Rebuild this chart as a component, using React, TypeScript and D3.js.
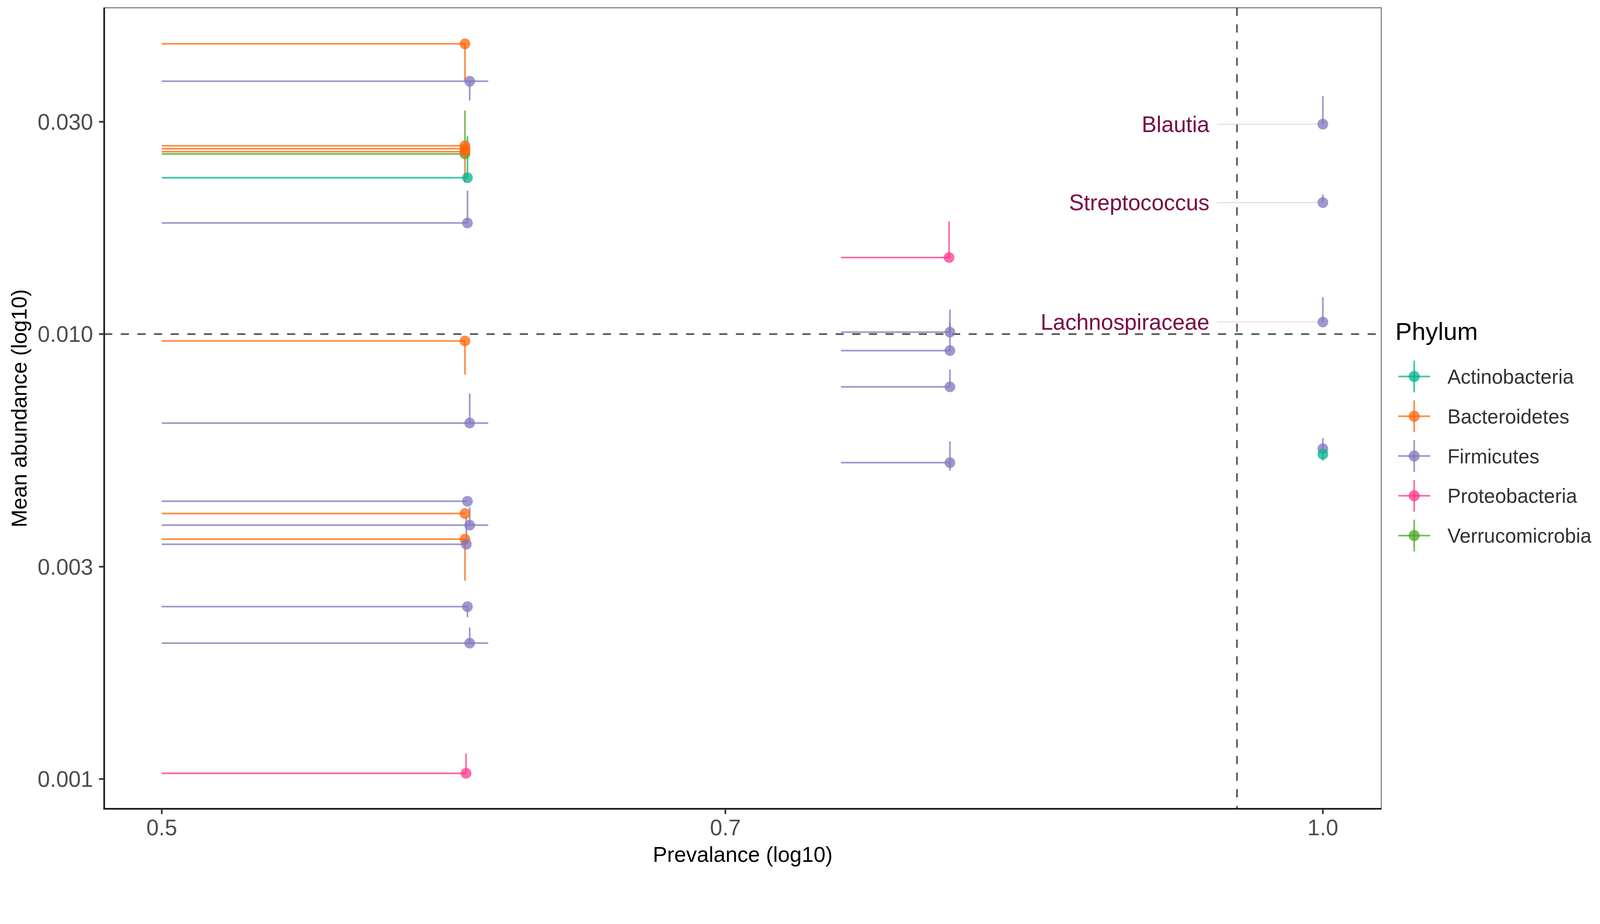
import React from "react";
import * as d3 from "d3";

// ---------- data ----------
const phyla = ["Actinobacteria", "Bacteroidetes", "Firmicutes", "Proteobacteria", "Verrucomicrobia"];
const phylumColors = ["#00B38F", "#FF6608", "#8076BC", "#FF378E", "#4BA823"];

// one entry per taxon
const taxonPhylum = [
  "Bacteroidetes", "Firmicutes", "Verrucomicrobia", "Bacteroidetes", "Bacteroidetes",
  "Bacteroidetes", "Actinobacteria", "Firmicutes", "Bacteroidetes", "Firmicutes",
  "Firmicutes", "Bacteroidetes", "Firmicutes", "Bacteroidetes", "Firmicutes",
  "Firmicutes", "Firmicutes", "Proteobacteria",
  "Proteobacteria", "Firmicutes", "Firmicutes", "Firmicutes", "Firmicutes",
  "Firmicutes", "Firmicutes", "Firmicutes", "Firmicutes", "Actinobacteria",
];
const prevalence = [
  0.5992, 0.6009, 0.5992, 0.5992, 0.5992,
  0.5992, 0.6001, 0.6001, 0.5992, 0.6009,
  0.6001, 0.5992, 0.6009, 0.5992, 0.5997,
  0.6001, 0.6009, 0.5996,
  0.8000, 0.8004, 0.8004, 0.8004, 0.8004,
  1.0, 1.0, 1.0, 1.0, 1.0,
];
const abundance = [
  0.0449, 0.0370, 0.0254, 0.0265, 0.0261,
  0.0257, 0.02246, 0.01777, 0.00965, 0.00631,
  0.00421, 0.00395, 0.00372, 0.00346, 0.00337,
  0.00244, 0.00202, 0.00103,
  0.01486, 0.0101, 0.00918, 0.00761, 0.00514,
  0.02963, 0.01975, 0.01064, 0.005525, 0.00537,
];
const prevLow = [
  0.5, 0.5, 0.5, 0.5, 0.5,
  0.5, 0.5, 0.5, 0.5, 0.5,
  0.5, 0.5, 0.5, 0.5, 0.5,
  0.5, 0.5, 0.5,
  0.75, 0.75, 0.75, 0.75, 0.75,
  1.0, 1.0, 1.0, 1.0, 1.0,
];
const prevHigh = [
  0.5992, 0.6076, 0.5992, 0.5992, 0.5992,
  0.5992, 0.6001, 0.6001, 0.5992, 0.6076,
  0.6001, 0.5992, 0.6076, 0.5992, 0.5997,
  0.6001, 0.6076, 0.5996,
  0.8000, 0.8004, 0.8004, 0.8004, 0.8004,
  1.0, 1.0, 1.0, 1.0, 1.0,
];
const abundLow = [
  0.0372, 0.0335, 0.0254, 0.0265, 0.0219,
  0.0257, 0.02246, 0.01777, 0.00811, 0.00631,
  0.00421, 0.00395, 0.00372, 0.00279, 0.00337,
  0.00231, 0.00202, 0.00103,
  0.01486, 0.0101, 0.00918, 0.00761, 0.00493,
  0.02963, 0.01975, 0.01064, 0.005525, 0.005194,
];
const abundHigh = [
  0.0449, 0.0370, 0.0318, 0.0265, 0.0261,
  0.0257, 0.0278, 0.0210, 0.00965, 0.00735,
  0.00421, 0.00395, 0.00408, 0.00346, 0.00389,
  0.00244, 0.00219, 0.00114,
  0.0179, 0.01135, 0.0106, 0.00833, 0.00574,
  0.03425, 0.02058, 0.0121, 0.00584, 0.00537,
];

const labelTaxa = ["Blautia", "Streptococcus", "Lachnospiraceae"];
const labelTaxonIndex = [23, 24, 25];

const yTicks = [0.001, 0.003, 0.01, 0.03];
const xTicks = [0.5, 0.7, 1.0];
const abundanceThreshold = 0.01;
const prevalenceThreshold = 0.95;

// ---------- layout ----------
const W = 4331;
const H = 2365;
const panel = { left: 282, right: 3739, top: 21, bottom: 2189 };
const FONT = "'Liberation Sans', Arial, Helvetica, sans-serif";
const OPACITY = 0.75;
const LW = 4.5;
const R = 14.5;

const x = d3.scaleLog().domain([0.4831, 1.0355]).range([panel.left, panel.right]);
const y = d3.scaleLog().domain([0.000857, 0.05412]).range([panel.bottom, panel.top]);
const color = d3.scaleOrdinal<string, string>().domain(phyla).range(phylumColors);

export default function App() {
  const idx = d3.range(abundance.length);
  const legendX = 3828;
  const legendY0 = 1019;
  const legendStep = 107.6;

  return (
    <svg
      viewBox={`0 0 ${W} ${H}`}
      preserveAspectRatio="xMinYMin meet"
      style={{ position: "fixed", left: 0, top: 0, width: "100vw", height: "100vh", background: "#fff" }}
      fontFamily={FONT}
    >
      <rect x={0} y={0} width={W} height={H} fill="#fff" />
      {/* panel border */}
      <rect
        x={panel.left}
        y={panel.top}
        width={panel.right - panel.left}
        height={panel.bottom - panel.top}
        fill="none"
        stroke="#7f7f7f"
        strokeWidth={3}
      />

      {/* threshold lines */}
      <line
        x1={panel.left}
        x2={panel.right}
        y1={y(abundanceThreshold)}
        y2={y(abundanceThreshold)}
        stroke="#555"
        strokeWidth={4.5}
        strokeDasharray="22 23"
      />
      <line
        x1={x(prevalenceThreshold)}
        x2={x(prevalenceThreshold)}
        y1={panel.top}
        y2={panel.bottom}
        stroke="#555"
        strokeWidth={4.5}
        strokeDasharray="22 23"
      />

      {/* horizontal error bars */}
      {idx.map((i) =>
        prevHigh[i] > prevLow[i] ? (
          <line
            key={"h" + i}
            x1={x(prevLow[i])}
            x2={x(prevHigh[i])}
            y1={y(abundance[i])}
            y2={y(abundance[i])}
            stroke={color(taxonPhylum[i])}
            strokeOpacity={OPACITY}
            strokeWidth={LW}
          />
        ) : null
      )}
      {/* vertical error bars */}
      {idx.map((i) =>
        abundHigh[i] > abundLow[i] ? (
          <line
            key={"v" + i}
            x1={x(prevalence[i])}
            x2={x(prevalence[i])}
            y1={y(abundLow[i])}
            y2={y(abundHigh[i])}
            stroke={color(taxonPhylum[i])}
            strokeOpacity={OPACITY}
            strokeWidth={LW}
          />
        ) : null
      )}

      {/* label segments */}
      {labelTaxonIndex.map((ti, k) => (
        <line
          key={"s" + k}
          x1={x(prevalence[ti]) - 287}
          x2={x(prevalence[ti])}
          y1={y(abundance[ti])}
          y2={y(abundance[ti])}
          stroke="#EBCAD8"
          strokeWidth={2}
        />
      ))}

      {/* points */}
      {idx.map((i) => (
        <circle
          key={"p" + i}
          cx={x(prevalence[i])}
          cy={y(abundance[i])}
          r={R}
          fill={color(taxonPhylum[i])}
          fillOpacity={OPACITY}
        />
      ))}

      {/* labels */}
      {labelTaxonIndex.map((ti, k) => (
        <text
          key={"l" + k}
          x={x(prevalence[ti]) - 307}
          y={y(abundance[ti]) + 21}
          textAnchor="end"
          fontSize={60}
          fill="#780A46"
        >
          {labelTaxa[k]}
        </text>
      ))}

      {/* axes lines */}
      <line x1={panel.left} x2={panel.left} y1={panel.top} y2={panel.bottom + 2} stroke="#1a1a1a" strokeWidth={4.5} />
      <line x1={panel.left - 2} x2={panel.right} y1={panel.bottom} y2={panel.bottom} stroke="#1a1a1a" strokeWidth={4.5} />

      {/* y ticks */}
      {yTicks.map((t) => (
        <g key={"yt" + t}>
          <line x1={panel.left - 14} x2={panel.left} y1={y(t)} y2={y(t)} stroke="#333" strokeWidth={4.5} />
          <text x={252} y={y(t) + 21.5} textAnchor="end" fontSize={60} fill="#4D4D4D">
            {d3.format(".3f")(t)}
          </text>
        </g>
      ))}
      {/* x ticks */}
      {xTicks.map((t) => (
        <g key={"xt" + t}>
          <line x1={x(t)} x2={x(t)} y1={panel.bottom} y2={panel.bottom + 14} stroke="#333" strokeWidth={4.5} />
          <text x={x(t)} y={2261} textAnchor="middle" fontSize={60} fill="#4D4D4D">
            {d3.format(".1f")(t)}
          </text>
        </g>
      ))}

      {/* axis titles */}
      <text x={(panel.left + panel.right) / 2} y={2333} textAnchor="middle" fontSize={58} fill="#000">
        Prevalance (log10)
      </text>
      <text
        transform={`translate(72, ${(panel.top + panel.bottom) / 2}) rotate(-90)`}
        textAnchor="middle"
        fontSize={58}
        fill="#000"
      >
        Mean abundance (log10)
      </text>

      {/* legend */}
      <text x={3777} y={920} fontSize={67} fill="#000">
        Phylum
      </text>
      {phyla.map((p, k) => {
        const cy = legendY0 + k * legendStep;
        const c = color(p);
        return (
          <g key={"lg" + p}>
            <line x1={legendX - 43} x2={legendX + 43} y1={cy} y2={cy} stroke={c} strokeOpacity={OPACITY} strokeWidth={LW} />
            <line x1={legendX} x2={legendX} y1={cy - 43} y2={cy + 43} stroke={c} strokeOpacity={OPACITY} strokeWidth={LW} />
            <circle cx={legendX} cy={cy} r={15} fill={c} fillOpacity={OPACITY} />
            <text x={3918} y={cy + 19.5} fontSize={54} fill="#333">
              {p}
            </text>
          </g>
        );
      })}
    </svg>
  );
}
